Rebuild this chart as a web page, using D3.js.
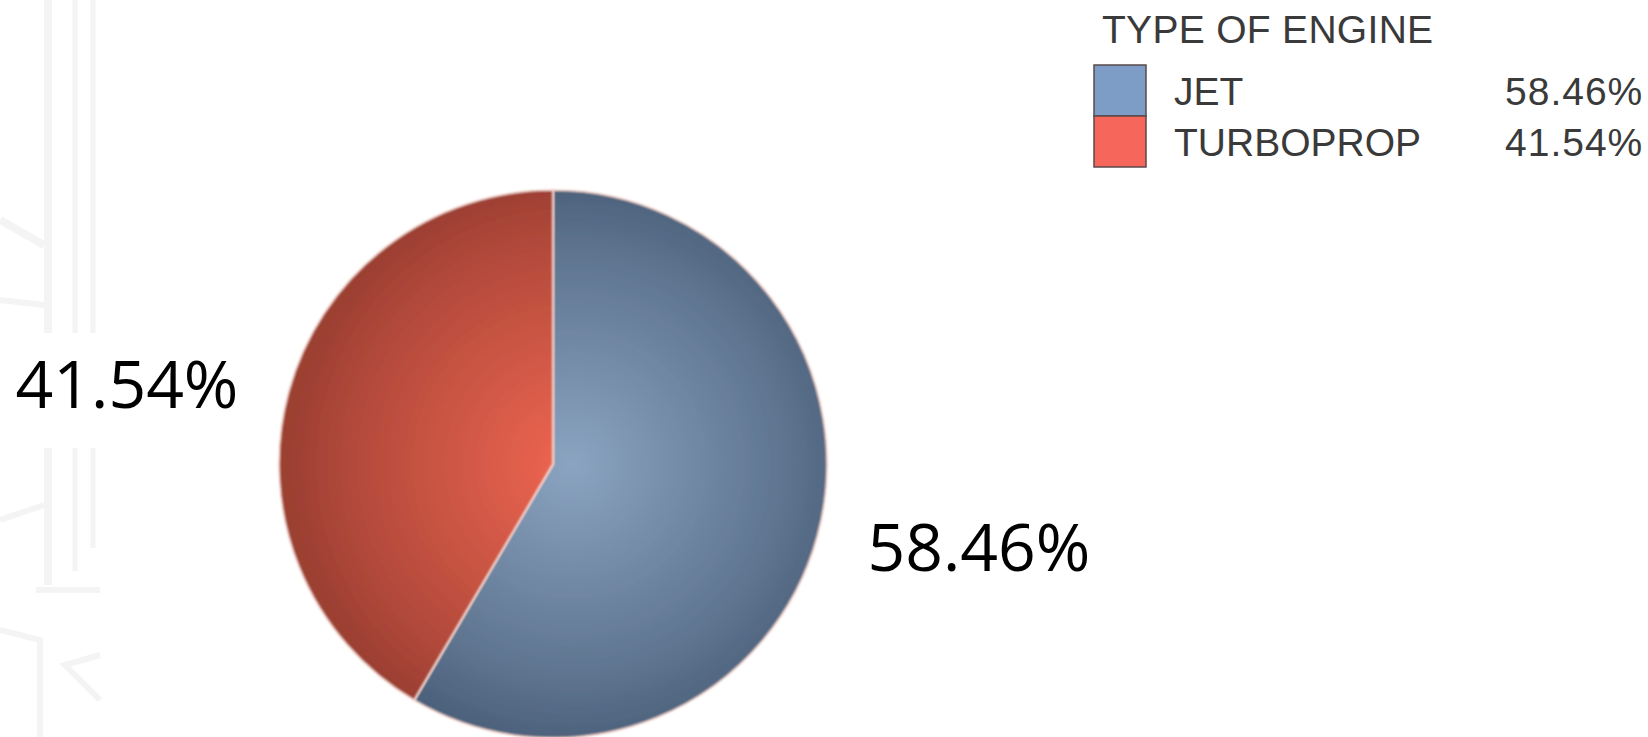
<!DOCTYPE html>
<html lang="en">

<head>
    <meta charset="UTF-8">
    <title>Type of engine</title>
    <script src="https://d3js.org/d3.v7.min.js"></script>
    <style>
        body { margin: 0; background: #fff; }
    </style>
</head>

<body>
    <script>

        var engineTypes = ["JET", "TURBOPROP"];
        var shares = [58.46, 41.54];
        var legendTitle = "TYPE OF ENGINE";

        var width = 1648, height = 737;
        var cx = 553, cy = 464, radius = 274;

        var svg = d3.select("body")
            .append("svg")
            .attr("width", width)
            .attr("height", height);

        // faint slide decoration on the left edge
        var deco = svg.append("g")
            .attr("fill", "none")
            .attr("stroke", "#f4f4f4");
        [[48, 8, 0, 333], [48, 8, 448, 585], [75, 5, 0, 333], [75, 5, 448, 571],
         [93, 5, 0, 333], [93, 5, 448, 548]].forEach(function (d) {
            deco.append("line")
                .attr("x1", d[0]).attr("x2", d[0])
                .attr("y1", d[2]).attr("y2", d[3])
                .attr("stroke-width", d[1]);
        });
        deco.append("path").attr("d", "M0,220 L44,245").attr("stroke-width", 8);
        deco.append("path").attr("d", "M0,300 L44,305").attr("stroke-width", 6);
        deco.append("path").attr("d", "M0,520 L44,505").attr("stroke-width", 6);
        deco.append("path").attr("d", "M36,590 L100,590").attr("stroke-width", 6);
        deco.append("path").attr("d", "M0,630 L40,640 L40,737").attr("stroke-width", 6);
        deco.append("path").attr("d", "M100,655 L65,665 L100,700").attr("stroke-width", 6);

        var colors = d3.scaleOrdinal()
            .domain(engineTypes)
            .range([["#8ba4c1", "#4b607a"], ["#ef6651", "#9c3f33"]]);

        var legendColors = d3.scaleOrdinal()
            .domain(engineTypes)
            .range(["#7e9dc6", "#f6665a"]);

        var defs = svg.append("defs");
        engineTypes.forEach(function (t, i) {
            // gradient in the pie group's own coordinates (origin = pie centre)
            var g = defs.append("radialGradient")
                .attr("id", "grad" + i)
                .attr("gradientUnits", "userSpaceOnUse")
                .attr("cx", 20).attr("cy", 0)
                .attr("r", radius + 10);
            g.append("stop").attr("offset", "0%").attr("stop-color", colors(t)[0]);
            g.append("stop").attr("offset", "75%").attr("stop-color", d3.interpolateRgb(colors(t)[0], colors(t)[1])(0.7));
            g.append("stop").attr("offset", "100%").attr("stop-color", colors(t)[1]);
        });
        defs.append("filter").attr("id", "soft")
            .append("feGaussianBlur").attr("stdDeviation", 0.8);

        var pie = d3.pie().sort(null).value(function (d) { return d; });
        var arcs = pie(shares);

        var arc = d3.arc().innerRadius(0).outerRadius(radius);
        var labelArc = d3.arc().innerRadius(326).outerRadius(326);

        var chart = svg.append("g")
            .attr("transform", "translate(" + cx + "," + cy + ")");

        chart.selectAll("path.slice")
            .data(arcs)
            .enter()
            .append("path")
            .attr("class", "slice")
            .attr("d", arc)
            .attr("fill", function (d, i) { return "url(#grad" + i + ")"; })
            .attr("stroke", "#f3d3cb")
            .attr("stroke-width", 1.5)
            .attr("filter", "url(#soft)");

        chart.selectAll("text.pct")
            .data(arcs)
            .enter()
            .append("text")
            .attr("class", "pct")
            .attr("transform", function (d) { return "translate(" + labelArc.centroid(d) + ")"; })
            .attr("text-anchor", function (d) { return (d.startAngle + d.endAngle) / 2 < Math.PI ? "start" : "end"; })
            .attr("dy", function (d) { return (d.startAngle + d.endAngle) / 2 < Math.PI ? "0.32em" : "0.45em"; })
            .attr("font-family", "Open Sans, sans-serif")
            .attr("font-size", 66)
            .attr("fill", "#000")
            .text(function (d) { return d.data.toFixed(2) + "%"; });

        // legend
        var legend = svg.append("g")
            .attr("font-family", "Liberation Sans, Arial, sans-serif")
            .attr("fill", "#3a3a3a");

        legend.append("text")
            .attr("x", 1102)
            .attr("y", 43)
            .attr("font-size", 39)
            .attr("letter-spacing", 0.3)
            .text(legendTitle);

        var rows = legend.selectAll("g.row")
            .data(engineTypes)
            .enter()
            .append("g")
            .attr("class", "row")
            .attr("transform", function (d, i) { return "translate(1094," + (65 + i * 51) + ")"; });

        rows.append("rect")
            .attr("width", 52)
            .attr("height", 51)
            .attr("fill", function (d) { return legendColors(d); })
            .attr("stroke", "#5a4a4a")
            .attr("stroke-width", 1.5);

        rows.append("text")
            .attr("x", 80)
            .attr("y", 40)
            .attr("font-size", 39)
            .text(function (d) { return d; });

        rows.append("text")
            .attr("x", 411)
            .attr("y", 40)
            .attr("font-size", 39)
            .attr("letter-spacing", 1)
            .text(function (d, i) { return shares[i].toFixed(2) + "%"; });

    </script>
</body>

</html>
